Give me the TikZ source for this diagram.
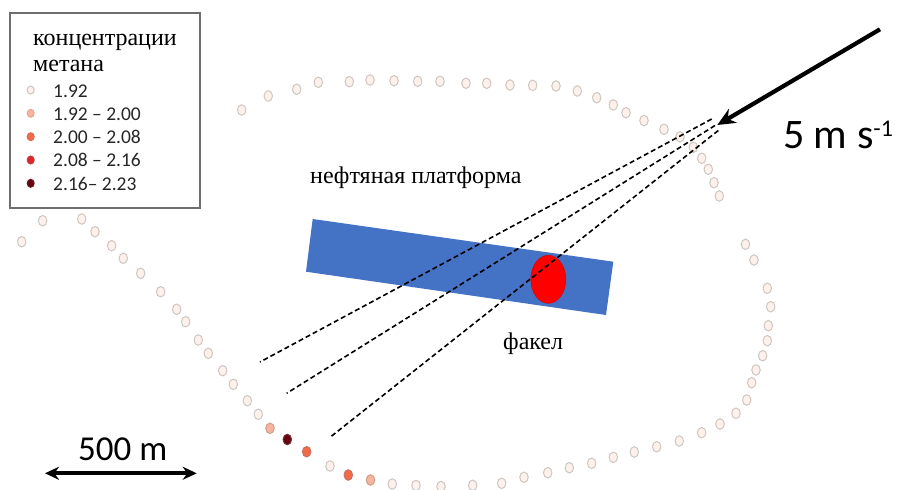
\documentclass[tikz,border=0pt]{standalone}
\usepackage{fontspec}
\setmainfont{Liberation Serif}
\newfontfamily\numfont{Carlito}
\usetikzlibrary{shapes.geometric,arrows.meta}

% methane concentration classes
\definecolor{lvlA}{HTML}{FEF1EB}
\definecolor{lvlB}{HTML}{F9B59B}
\definecolor{lvlC}{HTML}{F26A48}
\definecolor{lvlD}{HTML}{D52A2C}
\definecolor{lvlE}{HTML}{680010}
\definecolor{framegray}{HTML}{6F6F6F}
\definecolor{deckblue}{HTML}{4472C4}

\tikzset{
  sample/.style={shape=ellipse, inner sep=0pt, minimum width=8.5pt, minimum height=10.5pt,
                 line width=1pt},
  keydot/.style={sample, minimum width=7pt, minimum height=8pt},
  legendbox/.style={draw=framegray, line width=1.8pt, fill=white, inner sep=0pt,
                    minimum width=190pt, minimum height=195pt},
  serifbig/.style={font=\fontsize{24}{26}\selectfont, inner sep=0pt},
  keytext/.style={font=\numfont\fontsize{19.5}{21}\selectfont, text=black!85, inner sep=0pt, anchor=base west},
  transect/.style={black, line width=1.6pt, dash pattern=on 5pt off 3pt},
  windarrow/.style={line width=4.2pt, -{Stealth[length=18pt,width=16pt]}},
  scalebar/.style={line width=4.2pt, {Stealth[length=14pt,width=13pt]}-{Stealth[length=14pt,width=13pt]}},
}

\begin{document}
\begin{tikzpicture}[x=1pt, y=-1pt]
\useasboundingbox (0,0) rectangle (898,490);

% ship track samples
\foreach \px/\py/\c [count=\i] in {
  241.7/110/lvlA, 268.3/96/lvlA, 296.7/89.3/lvlA, 318.3/82.3/lvlA, 349.3/81.7/lvlA,
  370/80/lvlA, 394/80.7/lvlA, 417.7/81.3/lvlA, 440/81.3/lvlA, 466/83.3/lvlA,
  486.7/83.3/lvlA, 510/85/lvlA, 532.7/85.3/lvlA, 556/86/lvlA, 577.3/91/lvlA,
  596.7/97.7/lvlA, 613.3/105/lvlA, 626/112.7/lvlA, 644/120.5/lvlA, 664/129.3/lvlA,
  680/136.7/lvlA, 693.3/147.3/lvlA, 701.7/158.3/lvlA, 708.3/169.3/lvlA, 714/182.7/lvlA,
  719.3/196/lvlA, 745.5/244.3/lvlA, 754/260/lvlA, 767.3/288.3/lvlA, 770.7/306.7/lvlA,
  768.3/325.7/lvlA, 767.3/340.7/lvlA, 762.7/355.7/lvlA, 756/370/lvlA, 751.7/382.7/lvlA,
  746.7/400/lvlA, 736/413.3/lvlA, 720/424/lvlA, 701.7/432.7/lvlA, 679.3/441/lvlA,
  656.7/446.7/lvlA, 634.3/452/lvlA, 613.3/457.3/lvlA, 591.7/463.3/lvlA, 569.3/467.7/lvlA,
  547.7/472.7/lvlA, 524/477.3/lvlA, 501.7/483.3/lvlA, 472.7/485.3/lvlA, 441/486.5/lvlA,
  416/485.5/lvlA, 392.3/484/lvlA, 370.5/480/lvlB, 348.3/475/lvlC, 330/466/lvlA,
  306.7/451.7/lvlC, 287.3/439.5/lvlE, 270/428.3/lvlB, 258.3/414.3/lvlA, 247.3/400.7/lvlA,
  233.3/384.3/lvlA, 222.7/370.7/lvlA, 208.3/353.3/lvlA, 198.3/340/lvlA, 185.7/321.7/lvlA,
  176.7/309.3/lvlA, 160.7/291.7/lvlA, 140.7/273.3/lvlA, 123.3/258.3/lvlA, 111.7/245.7/lvlA,
  95/231.7/lvlA, 81.7/219/lvlA, 42.7/220.7/lvlA, 21.7/241.7/lvlA}
  \node[sample, fill=\c, draw=\c!62!gray] (s\i) at (\px,\py) {};

% platform deck and flare
\fill[deckblue] (312.7,219) -- (613.3,261.7) -- (606,315) -- (306,271.7) -- cycle;
\node[shape=ellipse, fill=red, draw=red!85!black, line width=0.5pt,
      minimum width=35pt, minimum height=48pt, inner sep=0pt] (flare) at (548.3,279.3) {};

\node[serifbig, anchor=base west] (deck) at (310,183.3) {нефтяная платформа};
\node[serifbig, anchor=base west] (flarelabel) at (503,349) {факел};

% plume transects
\coordinate (r1s) at (711.7,119);   \coordinate (r1e) at (260,362);
\coordinate (r2s) at (715,125.5);   \coordinate (r2e) at (286.7,393.3);
\coordinate (r3s) at (718.3,130.5); \coordinate (r3e) at (330,437.3);
\draw[transect] (r1s) -- (r1e);
\draw[transect] (r2s) -- (r2e);
\draw[transect] (r3s) -- (r3e);

% wind
\coordinate (windfrom) at (880,29.3);
\coordinate (windto) at (717.3,125);
\draw[windarrow] (windfrom) -- (windto);
\node[font=\numfont\fontsize{42}{44}\selectfont, inner sep=0pt, anchor=base west] (windspeed)
  at (783,148.3) {5 m s{\fontsize{24}{24}\selectfont\raisebox{12pt}{-1}}};

% scale
\coordinate (barl) at (45,473.3);
\coordinate (barr) at (196.7,473.3);
\draw[scalebar] (barl) -- (barr);
\node[font=\numfont\fontsize{35}{37}\selectfont, inner sep=0pt, anchor=base west] (scalelabel)
  at (78,460) {500 m};

% legend
\node[legendbox] (legend) at (105,110.5) {};
\node[serifbig, anchor=base west] (keytitle1) at (33,45) {концентрации};
\node[serifbig, anchor=base west] (keytitle2) at (33,71.7) {метана};
\node[keydot, fill=lvlA, draw=lvlA!62!gray] (k1) at (30.7,90) {};
\node[keydot, fill=lvlB, draw=lvlB!80!gray] (k2) at (30.7,113.3) {};
\node[keydot, fill=lvlC, draw=lvlC!80!gray] (k3) at (30.7,136.7) {};
\node[keydot, fill=lvlD, draw=lvlD!80!gray] (k4) at (30.7,160) {};
\node[keydot, fill=lvlE, draw=lvlE!80!gray] (k5) at (30.7,183.3) {};
\node[keytext] (t1) at (53,97) {1.92};
\node[keytext] (t2) at (53,120.3) {1.92 – 2.00};
\node[keytext] (t3) at (53,143.5) {2.00 – 2.08};
\node[keytext] (t4) at (53,166.8) {2.08 – 2.16};
\node[keytext] (t5) at (53,190.3) {2.16– 2.23};
\end{tikzpicture}
\end{document}
